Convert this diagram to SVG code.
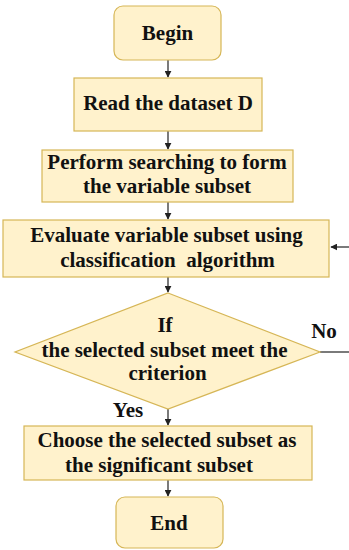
<svg xmlns="http://www.w3.org/2000/svg" width="349" height="550" viewBox="0 0 349 550">
  <style>
    .box { fill: #fff2cc; stroke: #d6b656; stroke-width: 1.2; }
    .lbl { font-family: "Liberation Serif", "Times New Roman", serif; font-weight: bold; font-size: 21px; fill: #111; text-anchor: middle; white-space: pre; }
    .edge { stroke: #222; stroke-width: 1.2; fill: none; }
  </style>
  <defs>
    <marker id="arrow" viewBox="0 0 10 10" refX="9" refY="5" markerWidth="7" markerHeight="7" markerUnits="userSpaceOnUse" orient="auto">
      <path d="M0,0 L10,5 L0,10 Z" fill="#222"/>
    </marker>
  </defs>
  <rect x="0" y="0" width="349" height="550" fill="#ffffff"/>

  <g id="connectors">
    <line class="edge" x1="168" y1="60" x2="168" y2="77" marker-end="url(#arrow)"/>
    <line class="edge" x1="168" y1="131" x2="168" y2="149" marker-end="url(#arrow)"/>
    <line class="edge" x1="168" y1="202" x2="168" y2="219" marker-end="url(#arrow)"/>
    <line class="edge" x1="168" y1="277" x2="168" y2="292" marker-end="url(#arrow)"/>
    <line class="edge" x1="168" y1="409" x2="168" y2="425" marker-end="url(#arrow)"/>
    <line class="edge" x1="168" y1="480" x2="168" y2="496" marker-end="url(#arrow)"/>
    <line class="edge" x1="320" y1="352" x2="349" y2="352"/>
    <line class="edge" x1="349" y1="247" x2="331" y2="247" marker-end="url(#arrow)"/>
    <text class="lbl" x="324" y="338">No</text>
    <text class="lbl" x="128" y="417">Yes</text>
  </g>

  <g id="begin">
    <rect class="box" x="114" y="6" width="107" height="54" rx="9"/>
    <text class="lbl" x="167.5" y="40">Begin</text>
  </g>

  <g id="read">
    <rect class="box" x="74" y="78" width="188" height="53"/>
    <text class="lbl" x="168" y="110">Read the dataset D</text>
  </g>

  <g id="search">
    <rect class="box" x="42" y="150" width="251" height="52"/>
    <text class="lbl" x="167" y="169">Perform searching to form</text>
    <text class="lbl" x="167" y="193">the variable subset</text>
  </g>

  <g id="evaluate">
    <rect class="box" x="3" y="220" width="326" height="57"/>
    <text class="lbl" x="166.5" y="242">Evaluate variable subset using</text>
    <text class="lbl" x="167.5" y="267">classification  algorithm</text>
  </g>

  <g id="decision">
    <polygon class="box" points="168,293 320,352 168,409 15,352"/>
    <text class="lbl" x="165" y="332">If</text>
    <text class="lbl" x="164.5" y="357">the selected subset meet the</text>
    <text class="lbl" x="167.5" y="380">criterion</text>
  </g>

  <g id="choose">
    <rect class="box" x="24" y="426" width="288" height="54"/>
    <text class="lbl" x="167" y="447">Choose the selected subset as</text>
    <text class="lbl" x="159" y="472">the significant subset</text>
  </g>

  <g id="end">
    <rect class="box" x="116" y="497" width="107" height="51" rx="9"/>
    <text class="lbl" x="169" y="530">End</text>
  </g>
</svg>
